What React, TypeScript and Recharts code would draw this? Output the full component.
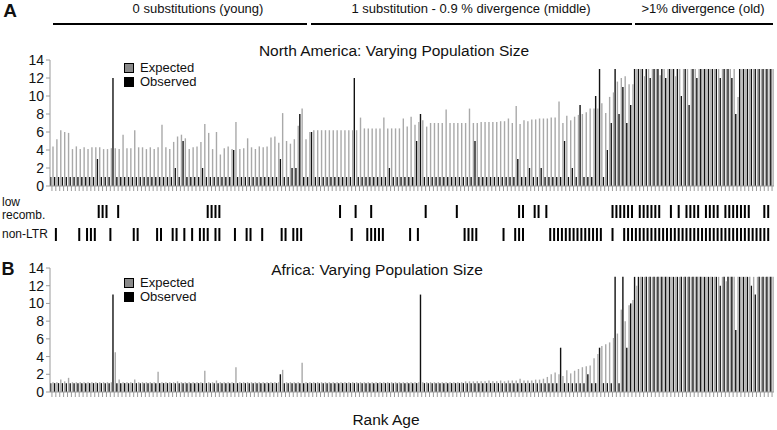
import { Bar, BarChart, XAxis, YAxis } from 'recharts';

// rank of each element (1 = youngest)
const ranks = [
  1, 2, 3, 4, 5, 6, 7, 8, 9, 10, 11, 12, 13, 14, 15, 16, 17, 18, 19, 20,
  21, 22, 23, 24, 25, 26, 27, 28, 29, 30, 31, 32, 33, 34, 35, 36, 37, 38, 39, 40,
  41, 42, 43, 44, 45, 46, 47, 48, 49, 50, 51, 52, 53, 54, 55, 56, 57, 58, 59, 60,
  61, 62, 63, 64, 65, 66, 67, 68, 69, 70, 71, 72, 73, 74, 75, 76, 77, 78, 79, 80,
  81, 82, 83, 84, 85, 86, 87, 88, 89, 90, 91, 92, 93, 94, 95, 96, 97, 98, 99, 100,
  101, 102, 103, 104, 105, 106, 107, 108, 109, 110, 111, 112, 113, 114, 115, 116, 117, 118, 119, 120,
  121, 122, 123, 124, 125, 126, 127, 128, 129, 130, 131, 132, 133, 134, 135, 136, 137, 138, 139, 140,
  141, 142, 143, 144, 145, 146, 147, 148, 149, 150, 151, 152, 153, 154, 155, 156, 157, 158, 159, 160,
  161, 162, 163, 164, 165, 166, 167, 168, 169, 170, 171, 172, 173, 174, 175, 176, 177, 178, 179, 180,
  181, 182, 183, 184, 185, 186,
];

// A: North America
const naExpected = [
  4.4, 5.2, 6.2, 6.0, 5.9, 4.1, 4.4, 4.1, 4.3, 4.1, 4.3, 4.3, 4.3, 4.1, 4.1, 4.2, 4.2, 4.1, 5.7, 4.2,
  4.2, 6.2, 4.3, 4.3, 4.1, 4.3, 4.1, 4.3, 6.8, 4.3, 4.1, 4.9, 5.5, 5.7, 5.3, 4.1, 4.3, 4.4, 4.9, 6.9,
  5.9, 4.1, 6.0, 3.5, 4.2, 4.4, 4.1, 7.1, 4.1, 4.2, 5.3, 4.3, 4.1, 4.4, 4.3, 4.4, 5.4, 5.5, 4.8, 8.1,
  5.0, 4.7, 5.2, 6.7, 8.6, 5.2, 6.0, 6.2, 6.2, 6.2, 6.2, 6.2, 6.2, 6.2, 6.2, 6.2, 6.2, 6.2, 6.2, 7.6,
  6.4, 6.4, 6.4, 6.4, 6.4, 7.6, 6.4, 6.4, 6.4, 6.4, 7.5, 6.6, 7.7, 6.8, 7.1, 7.3, 6.6, 7.0, 7.0, 7.0,
  7.0, 8.5, 7.0, 7.0, 7.0, 7.0, 7.0, 8.6, 7.0, 7.0, 7.1, 7.1, 7.1, 7.1, 7.1, 7.2, 7.2, 7.5, 7.0, 8.9,
  6.9, 7.3, 7.2, 7.4, 7.4, 7.5, 7.5, 7.5, 7.6, 7.6, 9.4, 7.0, 7.8, 7.3, 7.7, 7.9, 8.0, 8.2, 8.6, 8.6,
  8.6, 9.2, 8.1, 9.9, 10.4, 11.6, 12.0, 12.2, 11.3, 11.3, 13, 13, 12.2, 13, 13, 13, 12.3, 13, 13, 13,
  12.2, 13, 13, 13, 13, 13, 13, 13, 13, 13, 13, 13, 13, 13, 13, 13, 9.9, 13, 13, 13,
  13, 13, 13, 13, 13, 13,
];
const naObserved = [
  1, 1, 1, 1, 1, 1, 1, 1, 1, 1, 1, 1, 3, 1, 1, 1, 12, 1, 1, 1,
  1, 1, 1, 1, 1, 1, 1, 1, 1, 1, 1, 1, 2, 1, 5, 1, 1, 1, 1, 2,
  1, 1, 1, 1, 1, 1, 1, 4, 1, 1, 1, 1, 1, 1, 1, 1, 1, 1, 1, 3,
  1, 1, 2, 2, 8, 1, 1, 6, 1, 1, 1, 1, 1, 1, 1, 1, 1, 1, 12, 1,
  1, 1, 1, 1, 1, 1, 1, 2, 1, 1, 1, 1, 1, 1, 5, 8, 1, 1, 1, 1,
  1, 1, 1, 1, 1, 1, 1, 1, 1, 5, 1, 1, 1, 1, 1, 1, 1, 1, 1, 1,
  3, 1, 1, 2, 1, 1, 2, 1, 1, 1, 1, 1, 5, 1, 2, 1, 9, 1, 1, 1,
  10, 13, 1, 4, 7, 13, 8, 11, 7, 9, 13, 13, 13, 13, 12, 13, 13, 13, 12, 13,
  13, 13, 10, 13, 9, 13, 12, 13, 13, 13, 13, 13, 12, 13, 13, 12, 8, 13, 13, 13,
  13, 13, 13, 13, 13, 13,
];

// B: Africa
const afExpected = [
  1.1, 1.1, 1.4, 1.2, 1.6, 1.1, 1.1, 1.1, 1.1, 1.1, 1.1, 1.1, 1.1, 1.1, 1.1, 1.1, 4.5, 1.4, 1.1, 1.1,
  1.1, 1.4, 1.1, 1.1, 1.1, 1.1, 1.1, 2.3, 1.1, 1.1, 1.1, 1.1, 1.2, 1.1, 1.1, 1.1, 1.1, 1.1, 1.1, 2.4,
  1.1, 1.1, 1.3, 1.1, 1.1, 1.1, 1.1, 2.8, 1.1, 1.1, 1.1, 1.1, 1.1, 1.1, 1.1, 1.1, 1.1, 1.1, 1.1, 2.5,
  1.1, 1.1, 1.1, 1.1, 3.3, 1.1, 1.1, 1.1, 1.1, 1.1, 1.1, 1.1, 1.1, 1.1, 1.1, 1.1, 1.1, 1.1, 1.1, 1.1,
  1.1, 1.1, 1.1, 1.1, 1.1, 1.1, 1.1, 1.1, 1.1, 1.1, 1.1, 1.1, 1.1, 1.1, 1.1, 1.1, 1.1, 1.1, 1.1, 1.1,
  1.1, 1.1, 1.1, 1.1, 1.1, 1.1, 1.2, 1.2, 1.2, 1.2, 1.2, 1.2, 1.3, 1.2, 1.2, 1.3, 1.2, 1.3, 1.3, 1.3,
  1.5, 1.3, 1.3, 1.3, 1.4, 1.4, 1.5, 1.7, 2.0, 2.2, 2.0, 1.8, 2.45, 2.1, 2.4, 2.6, 2.8, 2.9, 3.0, 3.8,
  4.3, 5.2, 5.4, 5.6, 6.1, 6.6, 9.3, 8.0, 9.8, 10.4, 12, 13, 13, 13, 13, 13, 13, 13, 13, 13,
  13, 13, 13, 13, 13, 13, 13, 13, 13, 13, 13, 13, 13, 12.5, 13, 13, 13, 13, 13, 13,
  13, 13, 13, 13, 13, 13,
];
const afObserved = [
  1, 1, 1, 1, 1, 1, 1, 1, 1, 1, 1, 1, 1, 1, 1, 1, 11, 1, 1, 1,
  1, 1, 1, 1, 1, 1, 1, 1, 1, 1, 1, 1, 1, 1, 1, 1, 1, 1, 1, 1,
  1, 1, 1, 1, 1, 1, 1, 1, 1, 1, 1, 1, 1, 1, 1, 1, 1, 1, 1, 2,
  1, 1, 1, 1, 1, 1, 1, 1, 1, 1, 1, 1, 1, 1, 1, 1, 1, 1, 1, 1,
  1, 1, 1, 1, 1, 1, 1, 1, 1, 1, 1, 1, 1, 1, 1, 11, 1, 1, 1, 1,
  1, 1, 1, 1, 1, 1, 1, 1, 1, 1, 1, 1, 1, 1, 1, 1, 1, 1, 1, 1,
  1, 1, 1, 1, 1, 1, 1, 1, 1, 1, 1, 5, 1, 1, 1, 1, 1, 1, 2, 1,
  1, 5, 1, 1, 1, 13, 1, 13, 5, 10, 13, 13, 13, 13, 13, 13, 13, 13, 13, 13,
  13, 13, 13, 13, 13, 13, 13, 13, 13, 13, 13, 13, 12, 13, 13, 13, 7, 13, 13, 13,
  12, 11, 13, 13, 13, 13,
];

// rank indices (0-based) flagged in the annotation rows
const lowRecombIdx = [
  12, 13, 14, 17, 40, 41, 42, 43, 74, 78, 82, 96, 104, 120, 121, 124, 125, 127,
  144, 145, 146, 147, 148, 149, 151, 152, 153, 154, 155, 156, 159, 161, 163, 164, 165, 166,
  168, 169, 170, 171, 173, 174, 175, 176, 177, 178, 179, 183, 184,
];
const nonLtrIdx = [
  1, 7, 9, 10, 11, 15, 21, 22, 27, 28, 31, 32, 34, 36, 38, 39, 40, 42, 43, 47, 50, 51, 54,
  59, 60, 62, 63, 64, 77, 81, 82, 83, 84, 85, 92, 94, 106, 107, 108, 109, 116, 119, 120, 121,
  128, 129, 130, 131, 132, 133, 134, 135, 136, 137, 138, 139, 140, 141, 144,
  147, 148, 149, 150, 151, 152, 153, 154, 155, 156, 157, 158, 159, 160, 161, 162, 163, 164, 165,
  166, 167, 168, 169, 170, 171, 172, 173, 174, 175, 176, 177, 178, 179, 180, 181, 182, 183, 184,
];

const yTicks = [0, 2, 4, 6, 8, 10, 12, 14];

const FONT = '"Liberation Sans", Arial, Helvetica, sans-serif';
const GRAY = '#a9a9a9';
const AXIS = '#9a9a9a';

function Txt({ x, y, size = 13, bold = false, children }: any) {
  return (
    <div style={{ position: 'absolute', left: x, top: y, transform: 'translate(-50%, -50%)', fontSize: size, fontWeight: bold ? 700 : 400, whiteSpace: 'nowrap', lineHeight: 1 }}>
      {children}
    </div>
  );
}

function Legend({ top }: any) {
  const row = (label: string, color: string, y: number) => (
    <div style={{ position: 'absolute', left: 124, top: y, display: 'flex', alignItems: 'center', fontSize: 13, lineHeight: 1 }}>
      <span style={{ width: 8, height: 8, background: color, border: '1px solid #000', marginRight: 6, display: 'inline-block' }} />
      {label}
    </div>
  );
  return (
    <>
      {row('Expected', '#8a8a8a', top)}
      {row('Observed', '#000', top + 14)}
    </>
  );
}

function Panel({ data, top, height, marginTop, marginBottom }: any) {
  return (
    <div style={{ position: 'absolute', left: 0, top }}>
      <BarChart width={777} height={height} data={data} margin={{ top: marginTop, right: 3, left: 0, bottom: marginBottom }} barSize={1.4} barGap={0.9}>
        <XAxis dataKey="rank" interval={0} tickSize={5} height={10} tickFormatter={() => ''} stroke={AXIS} />
        <YAxis domain={[0, 14]} ticks={yTicks} interval={0} width={50} tickSize={4} stroke={AXIS} tick={{ fill: '#111', fontSize: 14, fontFamily: FONT }} />
        <Bar dataKey="observed" fill="#111" isAnimationActive={false} />
        <Bar dataKey="expected" fill={GRAY} isAnimationActive={false} />
      </BarChart>
    </div>
  );
}

function MarkRow({ data, dataKey, top }: any) {
  return (
    <div style={{ position: 'absolute', left: 0, top }}>
      <BarChart width={777} height={13} data={data} margin={{ top: 0, right: 3, left: 50, bottom: 0 }} barCategoryGap={0}>
        <XAxis dataKey="rank" hide />
        <YAxis hide domain={[0, 1]} />
        <Bar dataKey={dataKey} fill="#000" barSize={2} isAnimationActive={false} />
      </BarChart>
    </div>
  );
}

export default function App() {
  const naData = ranks.map((r, i) => ({ rank: r, expected: naExpected[i], observed: naObserved[i] }));
  const afData = ranks.map((r, i) => ({ rank: r, expected: afExpected[i], observed: afObserved[i] }));
  const flags = ranks.map((r, i) => ({
    rank: r,
    low: lowRecombIdx.includes(i) ? 1 : 0,
    nonLtr: nonLtrIdx.includes(i) ? 1 : 0,
  }));

  const line = (x1: number, x2: number) => (
    <div style={{ position: 'absolute', left: x1, top: 23, width: x2 - x1, height: 2, background: '#000' }} />
  );

  return (
    <div style={{ position: 'absolute', left: 0, top: 0, width: 777, height: 430, background: '#fff', fontFamily: FONT, color: '#111', overflow: 'hidden' }}>
      <Txt x={10} y={10} size={19} bold>A</Txt>
      <Txt x={198} y={8}>0 substitutions (young)</Txt>
      <Txt x={471} y={8}>1 substitution - 0.9 % divergence (middle)</Txt>
      <Txt x={703} y={8}>&gt;1% divergence (old)</Txt>
      {line(53, 307)}
      {line(311, 632)}
      {line(635, 773)}
      <Txt x={394} y={51} size={15.5}>North America: Varying Population Size</Txt>

      <Panel data={naData} top={0} height={200} marginTop={60} marginBottom={4} />
      <Legend top={61} />

      <div style={{ position: 'absolute', left: 2, top: 196, fontSize: 12, lineHeight: '13px' }}>low<br />recomb.</div>
      <div style={{ position: 'absolute', left: 2, top: 228, fontSize: 12, lineHeight: '13px' }}>non-LTR</div>
      <MarkRow data={flags} dataKey="low" top={205} />
      <MarkRow data={flags} dataKey="nonLtr" top={228} />

      <Txt x={8} y={269} size={18} bold>B</Txt>
      <Txt x={377} y={270} size={15.5}>Africa: Varying Population Size</Txt>
      <Panel data={afData} top={250} height={160} marginTop={18} marginBottom={8} />
      <Legend top={276} />

      <Txt x={386} y={420} size={15.5}>Rank Age</Txt>
    </div>
  );
}
